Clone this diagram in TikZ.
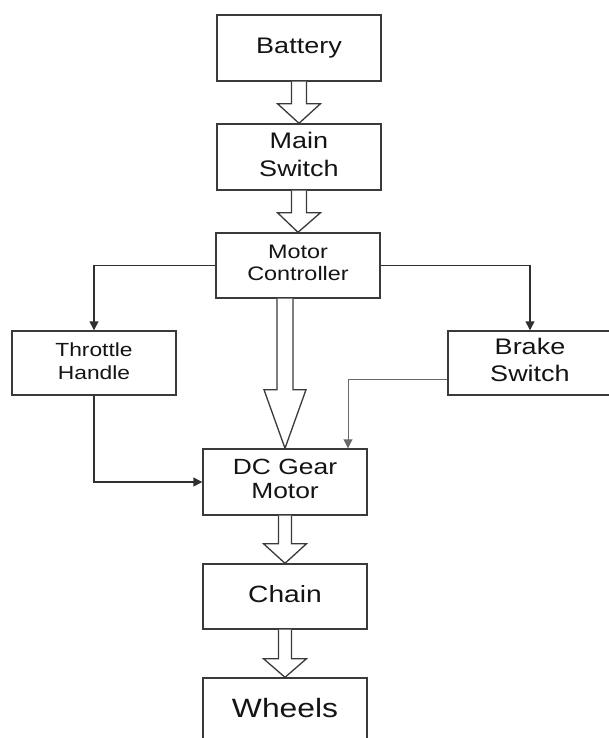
\documentclass[tikz,border=0pt]{standalone}
\usepackage{fontspec}
\setmainfont{Liberation Sans}
\usetikzlibrary{arrows.meta,calc}
\definecolor{boxgray}{HTML}{3A3A3A}
\definecolor{linegray}{HTML}{303030}
\definecolor{thingray}{HTML}{6A6A6A}
\definecolor{txt}{HTML}{141414}
\newcommand{\wtext}[1]{\scalebox{1.2}[1]{\begin{tabular}{@{}c@{}}#1\end{tabular}}}
\newcommand{\blockarrow}[5]{%
  \draw[blockarr] ($(#1)+(-#3,0)$) -- ($(#1)+(-#3,#5)$) -- ($(#1)+(-#4,#5)$) -- (#2)
    -- ($(#1)+(#4,#5)$) -- ($(#1)+(#3,#5)$) -- ($(#1)+(#3,0)$);}
\tikzset{
  box/.style={draw=boxgray, line width=1.4pt, fill=white, minimum width=164pt,
    minimum height=66pt, inner sep=0pt, text=txt},
  conn/.style={draw=linegray, line width=1.4pt, -{Triangle[length=9pt,width=9pt]}},
  thinconn/.style={draw=thingray, line width=0.9pt, -{Triangle[length=9pt,width=9pt]}},
  blockarr/.style={draw=boxgray, line width=1.3pt, fill=white, line join=miter}
}
\begin{document}
\begin{tikzpicture}[x=1pt,y=-1pt]
\useasboundingbox (0,0) rectangle (609,738);
\clip (0,0) rectangle (609,738);
\fill[white] (0,0) rectangle (609,738);
% boxes
\node[box, font=\fontsize{22.5}{28}\selectfont] (bat) at (299,48) {\wtext{Battery}};
\node[box, font=\fontsize{22.5}{28}\selectfont] (main) at (299,157) {\wtext{Main\\Switch}};
\node[box, minimum height=65pt, font=\fontsize{19.5}{22}\selectfont] (mc) at (298,265.5) {\wtext{Motor\\Controller}};
\node[box, minimum height=64pt, font=\fontsize{19}{23}\selectfont] (th) at (94,363) {\wtext{Throttle\\Handle}};
\node[box, minimum height=64pt, font=\fontsize{22.5}{27}\selectfont] (br) at (530,363) {\wtext{Brake\\Switch}};
\node[box, font=\fontsize{22}{24}\selectfont] (dc) at (285,482) {\wtext{DC Gear\\Motor}};
\node[box, minimum height=65pt, font=\fontsize{23.5}{28}\selectfont] (chain) at (285,596.5) {\wtext{Chain}};
\node[box, font=\fontsize{26.5}{32}\selectfont] (wh) at (285,711) {\wtext{Wheels}};
% block arrows
\blockarrow{bat.south}{main.north}{7.5}{21.5}{22}
\blockarrow{main.south}{mc.north}{7.5}{21.5}{22}
\coordinate (mcout) at (dc.north |- mc.south);
\blockarrow{mcout}{dc.north}{8}{21}{91}
\blockarrow{dc.south}{chain.north}{6.5}{21.5}{28}
\blockarrow{chain.south}{wh.north}{6.5}{21.5}{29}
% connectors
\draw[conn] (mc.west) -| (th.north);
\draw[conn] (mc.east) -| (br.north);
\draw[conn] (th.south) |- (dc.west);
\coordinate (brout) at ($(br.west)+(0,16)$);
\coordinate (dcin) at ($(dc.north)+(63,0)$);
\draw[thinconn] (brout) -| (dcin);
\end{tikzpicture}
\end{document}
